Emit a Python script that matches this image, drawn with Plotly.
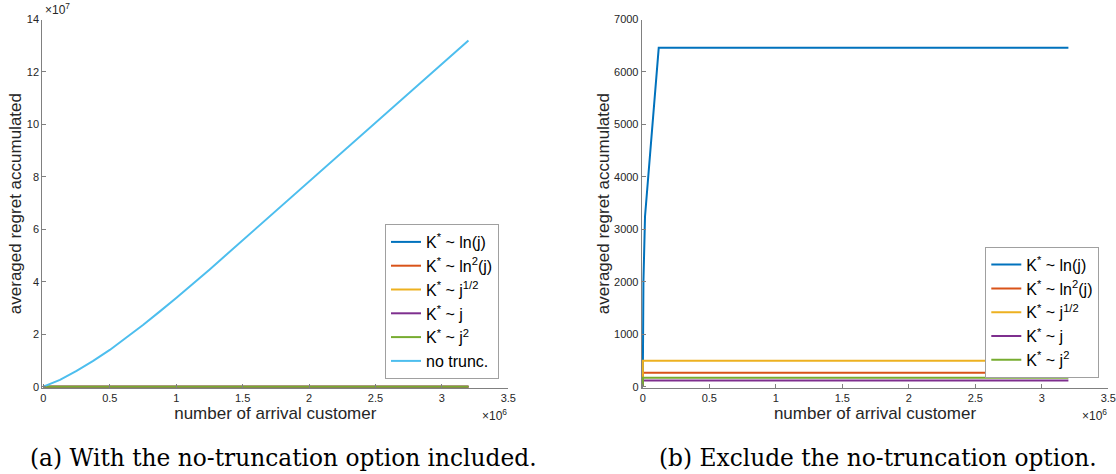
import plotly.graph_objects as go

# ---------------- data ----------------
series_names = [
    "K<sup>*</sup> ~ ln(j)",
    "K<sup>*</sup> ~ ln<sup>2</sup>(j)",
    "K<sup>*</sup> ~ j<sup>1/2</sup>",
    "K<sup>*</sup> ~ j",
    "K<sup>*</sup> ~ j<sup>2</sup>",
]
notrunc_name = "no trunc."

x_ln = [0, 1000, 5000, 17000, 120000, 3200000]
y_ln = [0, 500, 2000, 3250, 6460, 6460]

x_flat = [0, 1000, 3200000]
y_ln2 = [0, 267, 267]
y_sqrt = [0, 496, 496]
y_lin = [0, 115, 115]
y_sq = [0, 172, 172]

x_notrunc = [0, 125000, 250000, 375000, 500000, 625000, 750000, 875000,
             1000000, 1250000, 1500000, 2000000, 2500000, 3000000, 3200000]
y_notrunc = [0, 0.26e7, 0.60e7, 0.98e7, 1.40e7, 1.86e7, 2.35e7, 2.86e7,
             3.38e7, 4.46e7, 5.58e7, 7.82e7, 10.06e7, 12.3e7, 13.2e7]

x_tickvals = [0, 0.5e6, 1e6, 1.5e6, 2e6, 2.5e6, 3e6, 3.5e6]
x_ticktext = ["0", "0.5", "1", "1.5", "2", "2.5", "3", "3.5"]
yl_tickvals = [0, 2e7, 4e7, 6e7, 8e7, 10e7, 12e7, 14e7]
yl_ticktext = ["0", "2", "4", "6", "8", "10", "12", "14"]
yr_tickvals = [0, 1000, 2000, 3000, 4000, 5000, 6000, 7000]
yr_ticktext = ["0", "1000", "2000", "3000", "4000", "5000", "6000", "7000"]

captions = ["(a) With the no-truncation option included.",
            "(b) Exclude the no-truncation option."]
x_title = "number of arrival customer"
y_title = "averaged regret accumulated"

colors = ["#0072BD", "#D95319", "#EDB120", "#7E2F8E", "#77AC30"]
notrunc_color = "#4DBEEE"

# ---------------- figure ----------------
W, H = 1116, 474
fig = go.Figure()

trunc_x = [x_ln, x_flat, x_flat, x_flat, x_flat]
trunc_y = [y_ln, y_ln2, y_sqrt, y_lin, y_sq]

# left panel
for name, xs, ys, c in zip(series_names, trunc_x, trunc_y, colors):
    fig.add_trace(go.Scatter(x=xs, y=ys, mode="lines", name=name,
                             line=dict(color=c, width=2),
                             xaxis="x", yaxis="y", legend="legend"))
fig.add_trace(go.Scatter(x=x_notrunc, y=y_notrunc, mode="lines", name=notrunc_name,
                         line=dict(color=notrunc_color, width=2),
                         xaxis="x", yaxis="y", legend="legend"))
# right panel
for name, xs, ys, c in zip(series_names, trunc_x, trunc_y, colors):
    fig.add_trace(go.Scatter(x=xs, y=ys, mode="lines", name=name,
                             line=dict(color=c, width=2),
                             xaxis="x2", yaxis="y2", legend="legend2"))

def px(v):
    return v / W

def py(v):
    return (H - v) / H

axis_common = dict(
    showline=True, linecolor="#808080", linewidth=1,
    ticks="inside", ticklen=4, tickcolor="#808080", tickwidth=1,
    showgrid=False, zeroline=False, automargin=False,
    tickfont=dict(family="Liberation Sans", size=11, color="#262626"),
)
title_font = dict(family="Liberation Sans", size=17, color="#262626")
legend_font = dict(family="Liberation Sans", size=16, color="black")

fig.update_layout(
    width=W, height=H,
    margin=dict(l=0, r=0, t=0, b=0),
    paper_bgcolor="white", plot_bgcolor="white",
    xaxis=dict(domain=[px(42.3), px(508.3)], range=[-8000, 3.5e6],
               tickvals=x_tickvals, ticktext=x_ticktext, anchor="y",
               title=dict(text=x_title, font=title_font, standoff=4),
               **axis_common),
    yaxis=dict(domain=[py(387.7), py(19.5)], range=[-0.04e7, 14e7],
               tickvals=yl_tickvals, ticktext=yl_ticktext, anchor="x",
               title=dict(text=y_title, font=title_font, standoff=0),
               **axis_common),
    xaxis2=dict(domain=[px(641.7), px(1108.3)], range=[-8000, 3.5e6],
                tickvals=x_tickvals, ticktext=x_ticktext, anchor="y2",
                title=dict(text=x_title, font=title_font, standoff=4),
                **axis_common),
    yaxis2=dict(domain=[py(387.7), py(19.5)], range=[-20, 7000],
                tickvals=yr_tickvals, ticktext=yr_ticktext, anchor="x2",
                title=dict(text=y_title, font=title_font, standoff=0),
                **axis_common),
    legend=dict(x=px(499), y=py(379), xanchor="right", yanchor="bottom",
                xref="paper", yref="paper",
                bgcolor="white", bordercolor="#a0a0a0", borderwidth=1,
                font=legend_font, itemwidth=30, tracegroupgap=0),
    legend2=dict(x=px(1099.3), y=py(377.7), xanchor="right", yanchor="bottom",
                 xref="paper", yref="paper",
                 bgcolor="white", bordercolor="#a0a0a0", borderwidth=1,
                 font=legend_font, itemwidth=30, tracegroupgap=0),
)

exp_font = dict(family="Liberation Sans", size=12, color="#262626")
cap_font = dict(family="DejaVu Serif", size=23.3, color="black")
annotations = [
    dict(text="×10<sup>7</sup>", x=px(42.5), y=py(19), xref="paper", yref="paper",
         xanchor="left", yanchor="bottom", showarrow=False, font=exp_font),
    dict(text="×10<sup>6</sup>", x=px(509), y=py(405), xref="paper", yref="paper",
         xanchor="right", yanchor="top", showarrow=False, font=exp_font),
    dict(text="×10<sup>6</sup>", x=px(1109), y=py(405), xref="paper", yref="paper",
         xanchor="right", yanchor="top", showarrow=False, font=exp_font),
    dict(text=captions[0], x=px(283), y=py(457), xref="paper", yref="paper",
         xanchor="center", yanchor="middle", showarrow=False, font=cap_font),
    dict(text=captions[1], x=px(878), y=py(457), xref="paper", yref="paper",
         xanchor="center", yanchor="middle", showarrow=False, font=cap_font),
]
fig.update_layout(annotations=annotations)

fig.write_html("out.html",
               config={"displayModeBar": False},
               post_script="document.body.style.margin='0';"
                           "document.body.style.overflow='hidden';")
